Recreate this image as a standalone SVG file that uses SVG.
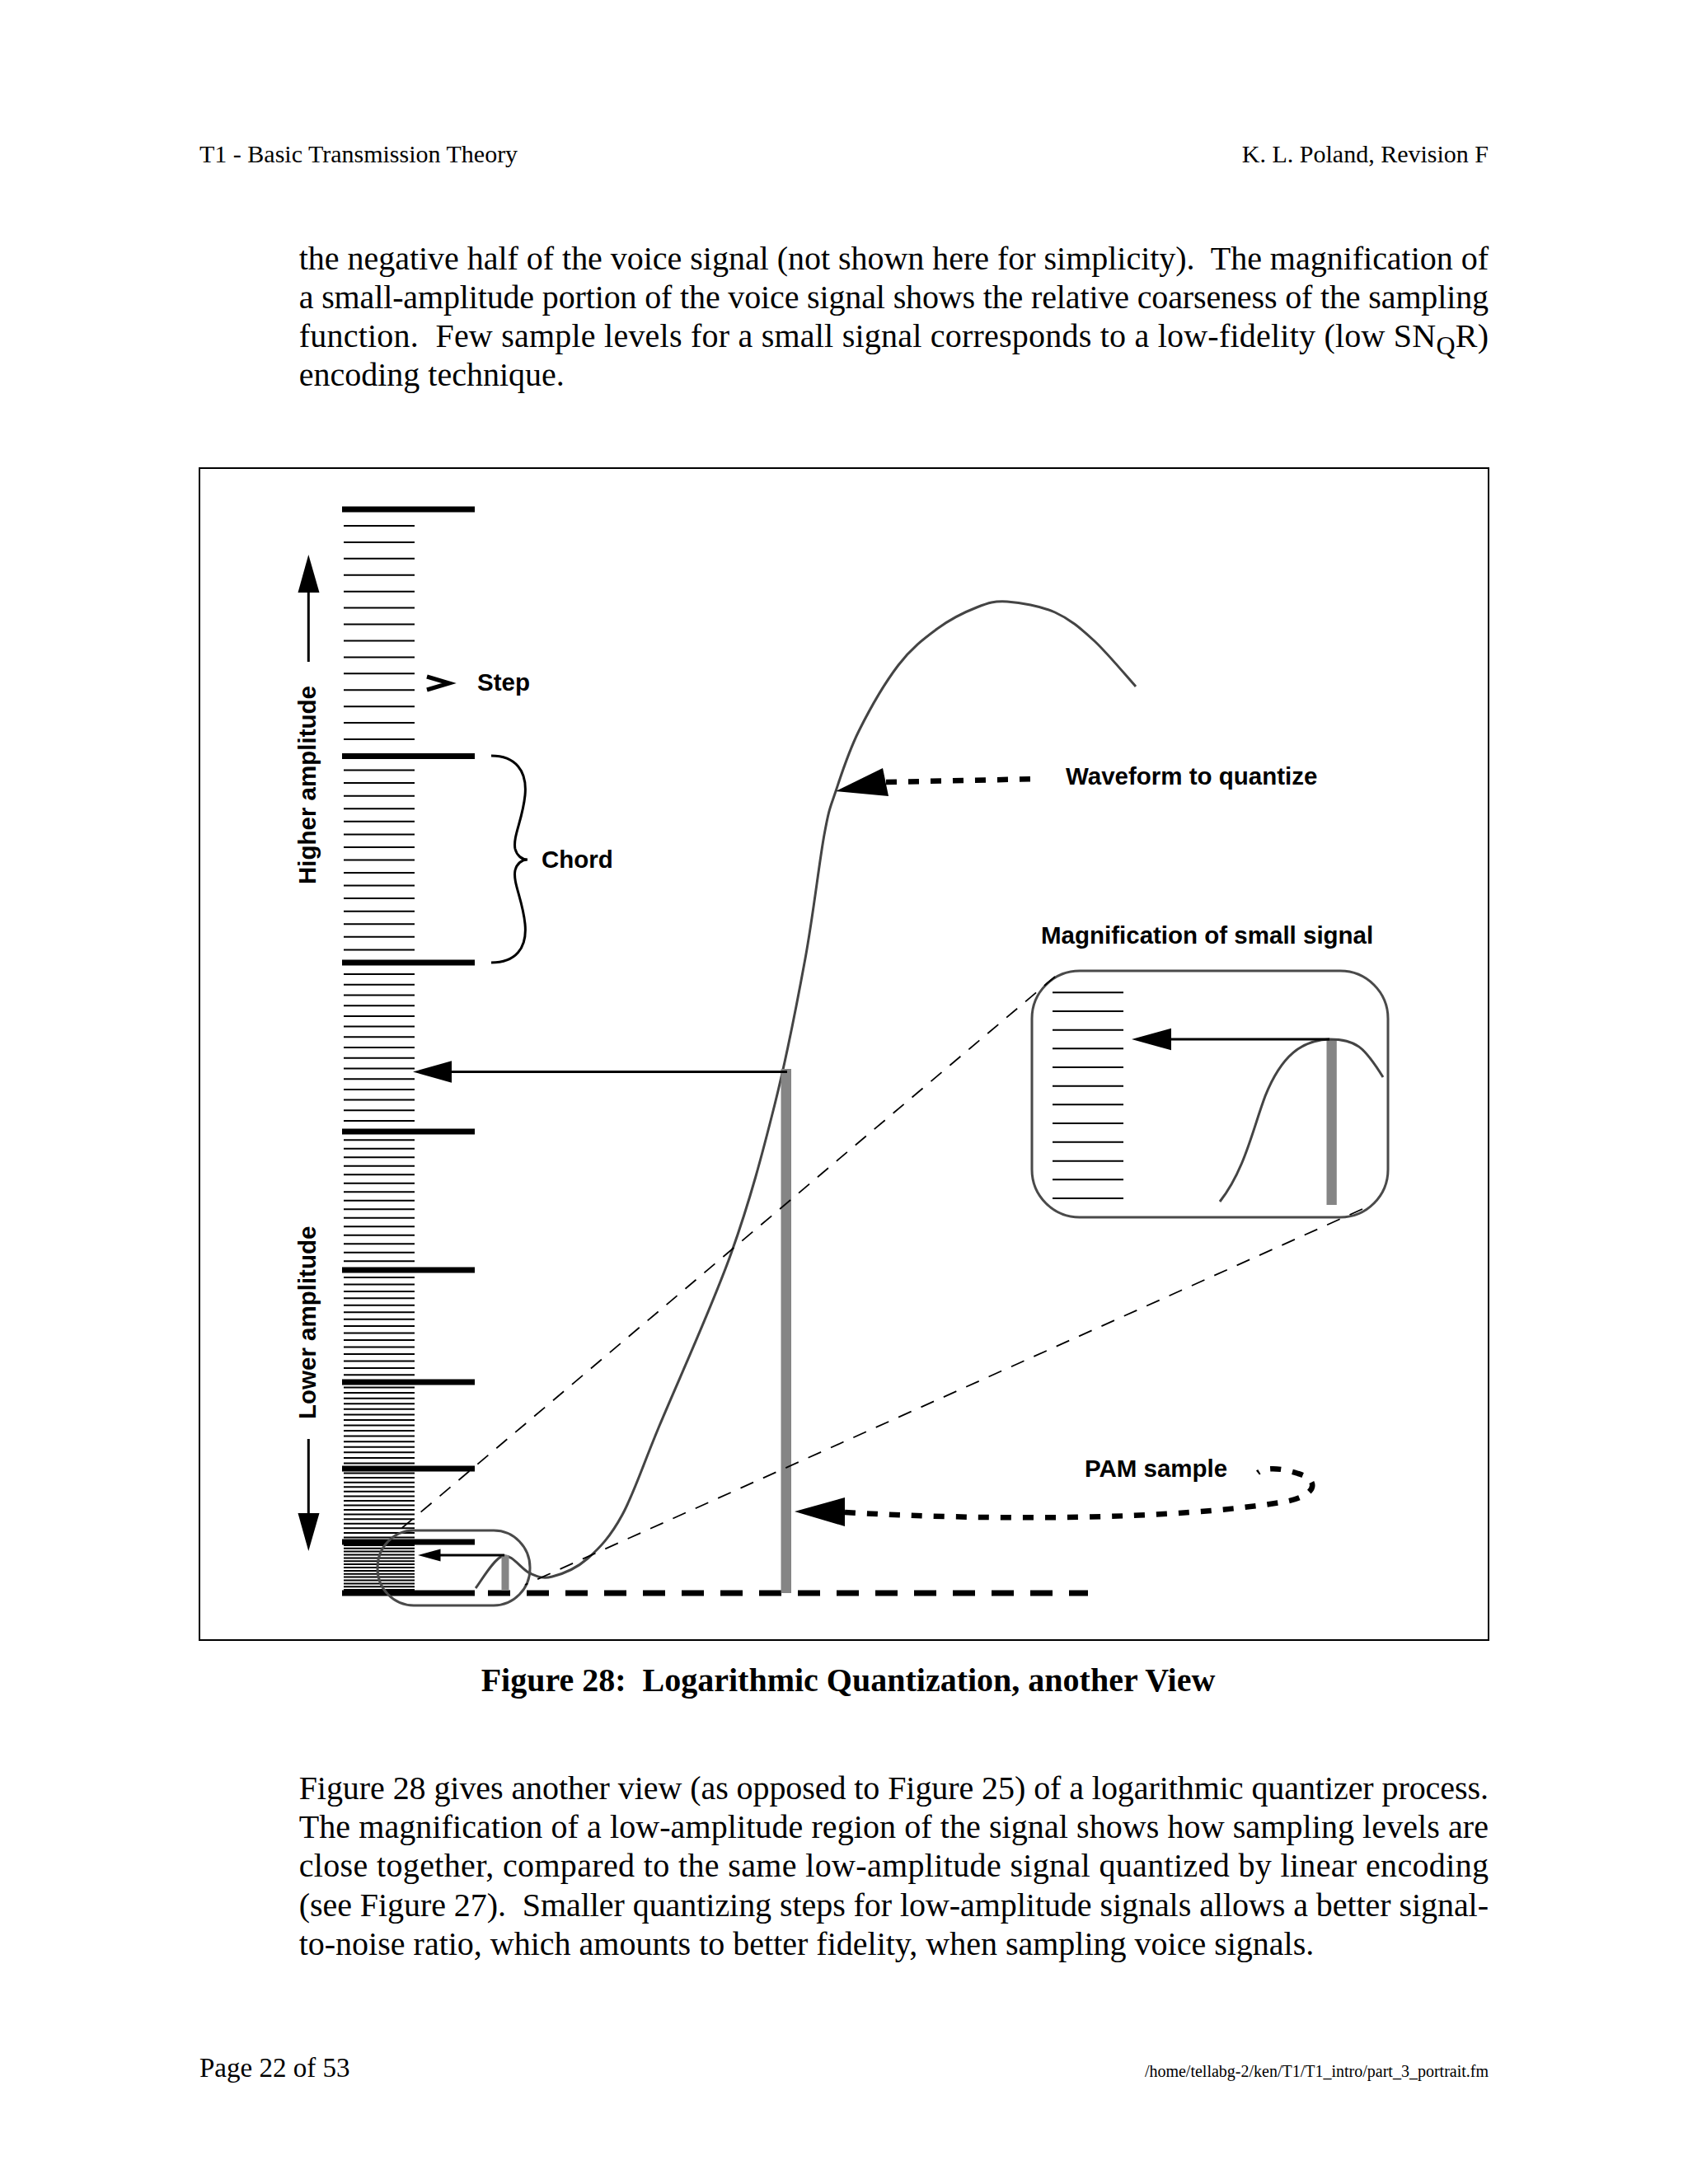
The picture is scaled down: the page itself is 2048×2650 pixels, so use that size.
<svg xmlns="http://www.w3.org/2000/svg" width="2048" height="2650" viewBox="0 0 2048 2650">
<style>
.serif{font-family:"Liberation Serif","Times New Roman",serif;fill:#000}
.body{font-size:40px}
.hdr{font-size:30px}
.lbl{font-family:"Liberation Sans",Arial,sans-serif;font-weight:bold;font-size:29.5px;fill:#000}
.thick{stroke:#000;stroke-width:7;fill:none}
.thin{stroke:#000;stroke-width:2;fill:none}
.curve{stroke:#444;stroke-width:3;fill:none}
.box{stroke:#4a4a4a;stroke-width:3;fill:none}
.bar{fill:#858585}
.zoomline{stroke:#000;stroke-width:1.8;fill:none;stroke-dasharray:17 13}
.ptr{stroke:#000;stroke-width:6.5;fill:none;stroke-dasharray:13 14}
.head{fill:#000}
.ln{stroke:#000;stroke-width:3;fill:none}
</style>
<rect width="2048" height="2650" fill="#fff"/>

<g id="page-text">
<text class="serif hdr" x="242" y="197">T1 - Basic Transmission Theory</text>
<text class="serif hdr" x="1806" y="197" text-anchor="end">K. L. Poland, Revision F</text>
<text class="serif body" x="362.7" y="326.5" textLength="1443.3" lengthAdjust="spacing" xml:space="preserve">the negative half of the voice signal (not shown here for simplicity).  The magnification of</text>
<text class="serif body" x="362.7" y="373.7" textLength="1443.3" lengthAdjust="spacing">a small-amplitude portion of the voice signal shows the relative coarseness of the sampling</text>
<text class="serif body" x="362.7" y="420.9" textLength="1443.3" lengthAdjust="spacing" xml:space="preserve">function.  Few sample levels for a small signal corresponds to a low-fidelity (low SN<tspan dy="9" font-size="32">Q</tspan><tspan dy="-9">R)</tspan></text>
<text class="serif body" x="362.7" y="468.1">encoding technique.</text>
<text class="serif body" x="1029" y="2052" text-anchor="middle" font-weight="bold" xml:space="preserve">Figure 28:  Logarithmic Quantization, another View</text>
<text class="serif body" x="362.7" y="2183" textLength="1443.3" lengthAdjust="spacing">Figure 28 gives another view (as opposed to Figure 25) of a logarithmic quantizer process.</text>
<text class="serif body" x="362.7" y="2230.2" textLength="1443.3" lengthAdjust="spacing">The magnification of a low-amplitude region of the signal shows how sampling levels are</text>
<text class="serif body" x="362.7" y="2277.4" textLength="1443.3" lengthAdjust="spacing">close together, compared to the same low-amplitude signal quantized by linear encoding</text>
<text class="serif body" x="362.7" y="2324.6" textLength="1443.3" lengthAdjust="spacing" xml:space="preserve">(see Figure 27).  Smaller quantizing steps for low-amplitude signals allows a better signal-</text>
<text class="serif body" x="362.7" y="2371.8">to-noise ratio, which amounts to better fidelity, when sampling voice signals.</text>
<text class="serif" x="242" y="2520" font-size="33">Page 22 of 53</text>
<text class="serif" x="1806" y="2520" font-size="20" text-anchor="end">/home/tellabg-2/ken/T1/T1_intro/part_3_portrait.fm</text>
</g>

<g id="frame">
<rect x="242" y="568" width="1564" height="1422" fill="none" stroke="#000" stroke-width="2"/>
</g>

<g id="ladder">
<path class="thick" d="M415,618H576M415,917.5H576M415,1168H576M415,1373H576M415,1541H576M415,1677H576M415,1782H576M415,1871H576M415,1933H576"/>
<path class="thin" d="M417,637.9h86M417,657.9h86M417,677.8h86M417,697.7h86M417,717.7h86M417,737.6h86M417,757.5h86M417,777.5h86M417,797.4h86M417,817.3h86M417,837.3h86M417,857.2h86M417,877.1h86M417,897.1h86"/>
<path class="thin" d="M417,934.6h86M417,950.1h86M417,965.7h86M417,981.2h86M417,996.8h86M417,1012.4h86M417,1027.9h86M417,1043.5h86M417,1059h86M417,1074.6h86M417,1090.1h86M417,1105.7h86M417,1121.3h86M417,1136.8h86M417,1152.4h86"/>
<path class="thin" d="M417,1182h86M417,1194.7h86M417,1207.4h86M417,1220.2h86M417,1232.9h86M417,1245.6h86M417,1258.3h86M417,1271h86M417,1283.7h86M417,1296.4h86M417,1309.2h86M417,1321.9h86M417,1334.6h86M417,1347.3h86M417,1360h86"/>
<path class="thin" d="M417,1383.3h86M417,1393.8h86M417,1404.3h86M417,1414.8h86M417,1425.3h86M417,1435.8h86M417,1446.3h86M417,1456.8h86M417,1467.3h86M417,1477.8h86M417,1488.3h86M417,1498.8h86M417,1509.3h86M417,1519.8h86M417,1530.3h86"/>
<path class="thin" d="M417,1550h86M417,1558.4h86M417,1566.9h86M417,1575.3h86M417,1583.8h86M417,1592.2h86M417,1600.7h86M417,1609.1h86M417,1617.6h86M417,1626h86M417,1634.5h86M417,1643h86M417,1651.4h86M417,1659.9h86M417,1668.3h86"/>
<path class="thin" d="M417,1683.6h86M417,1690.1h86M417,1696.7h86M417,1703.3h86M417,1709.8h86M417,1716.4h86M417,1722.9h86M417,1729.5h86M417,1736.1h86M417,1742.6h86M417,1749.2h86M417,1755.8h86M417,1762.3h86M417,1768.9h86M417,1775.4h86"/>
<path class="thin" stroke-width="1.8" d="M417,1787.6h86M417,1793.1h86M417,1798.7h86M417,1804.3h86M417,1809.8h86M417,1815.4h86M417,1820.9h86M417,1826.5h86M417,1832.1h86M417,1837.6h86M417,1843.2h86M417,1848.8h86M417,1854.3h86M417,1859.9h86M417,1865.4h86"/>
<path class="thin" stroke-width="1.6" d="M417,1874.9h86M417,1878.8h86M417,1882.6h86M417,1886.5h86M417,1890.4h86M417,1894.3h86M417,1898.1h86M417,1902h86M417,1905.9h86M417,1909.8h86M417,1913.6h86M417,1917.5h86M417,1921.4h86M417,1925.3h86M417,1929.1h86"/>
<path class="thick" d="M592,1933H1320" stroke-dasharray="27 20"/>
</g>

<g id="axis-labels">
<line class="ln" x1="374.3" y1="719" x2="374.3" y2="803" stroke-width="2.5"/>
<polygon class="head" points="374.3,673 361.5,719 387.5,719"/>
<text class="lbl" transform="translate(383,1073) rotate(-90)">Higher amplitude</text>
<text class="lbl" transform="translate(383,1722) rotate(-90)">Lower amplitude</text>
<line class="ln" x1="374.3" y1="1746" x2="374.3" y2="1836" stroke-width="2.5"/>
<polygon class="head" points="374.3,1882 361.5,1836 387.5,1836"/>
</g>

<g id="step-label">
<polyline points="518,821 545,829 518,837" fill="none" stroke="#000" stroke-width="5"/>
<text class="lbl" x="579" y="838">Step</text>
</g>

<g id="chord-label">
<path d="M596,917 C625,917 640,935 637,965 C634,995 622,1015 625,1030 C627,1038 633,1043 640,1043 C633,1043 627,1048 625,1056 C622,1071 634,1091 637,1121 C640,1151 625,1168 596,1168" fill="none" stroke="#000" stroke-width="3"/>
<text class="lbl" x="657" y="1053">Chord</text>
</g>

<g id="waveform">
<path class="curve" d="M577,1927 C582.5,1920.5 599,1891 610,1888 C621,1885 633,1904.8 643,1909 C653,1913.2 658.3,1916 670,1913 C681.7,1910 698.8,1903.5 713,1891 C727.2,1878.5 740.5,1864.8 755,1838 C769.5,1811.2 778,1782.8 800,1730 C822,1677.2 863.7,1586 887,1521 C910.3,1456 925,1399.7 940,1340 C955,1280.3 967,1217.5 977,1163 C987,1108.5 993.8,1046.8 1000,1013 C1006.2,979.2 1007,981 1014,960 C1021,939 1029.3,912.5 1042,887 C1054.7,861.5 1074.2,827.7 1090,807 C1105.8,786.3 1121.2,774.7 1137,763 C1152.8,751.3 1170.8,742.5 1185,737 C1199.2,731.5 1206.2,729 1222,730 C1237.8,731 1262.5,735.2 1280,743 C1297.5,750.8 1310.7,762 1327,777 C1343.3,792 1369.5,823.7 1378,833"/>
<text class="lbl" x="1293" y="952">Waveform to quantize</text>
</g>

<g id="pam-sample">
<rect class="bar" x="947.5" y="1297" width="12.5" height="636"/>
<text class="lbl" x="1316" y="1792">PAM sample</text>
</g>

<g id="small-box">
<rect class="box" x="458" y="1857" width="185" height="91" rx="44" ry="45"/>
<rect class="bar" x="608.5" y="1887" width="9" height="43"/>
</g>

<g id="magnification">
<text class="lbl" x="1263" y="1145">Magnification of small signal</text>
<rect class="box" x="1252" y="1178" width="432" height="299" rx="58"/>
<path class="thin" d="M1277,1204.3h86M1277,1227h86M1277,1249.7h86M1277,1272.3h86M1277,1295h86M1277,1317.7h86M1277,1340.3h86M1277,1363h86M1277,1385.7h86M1277,1408.7h86M1277,1431.3h86M1277,1454h86"/>
<rect class="bar" x="1609.5" y="1261" width="12.3" height="201"/>
<path class="curve" d="M1480,1458 C1510,1420 1520,1370 1535,1330 C1555,1280 1580,1262 1613,1261 C1645,1261 1655,1270 1678,1307"/>
</g>

<g id="connectors">
<line class="zoomline" x1="1280" y1="1185" x2="483" y2="1858"/>
<line class="zoomline" x1="1653" y1="1467" x2="637" y2="1923"/>
<line class="ln" x1="546" y1="1300.5" x2="955" y2="1300.5"/>
<polygon class="head" points="501,1300.5 548,1287.2 548,1313.8"/>
<line class="ln" x1="1419" y1="1261" x2="1613" y2="1261"/>
<polygon class="head" points="1373,1261 1421,1247.7 1421,1274.3"/>
<line class="ln" x1="532" y1="1887" x2="612" y2="1887" stroke-width="2.5"/>
<polygon class="head" points="507,1887 534.5,1879.5 534.5,1894.5"/>
<path class="ptr" d="M1075,949 L1263,945"/>
<polygon class="head" points="1014,960 1071,932 1078,966"/>
<path class="ptr" d="M1025,1835 C1200,1845 1420,1845 1560,1822 C1600,1814 1600,1795 1575,1788 C1555,1781 1535,1780 1526,1787"/>
<polygon class="head" points="964,1834 1025,1817 1025,1852"/>
</g>
</svg>
